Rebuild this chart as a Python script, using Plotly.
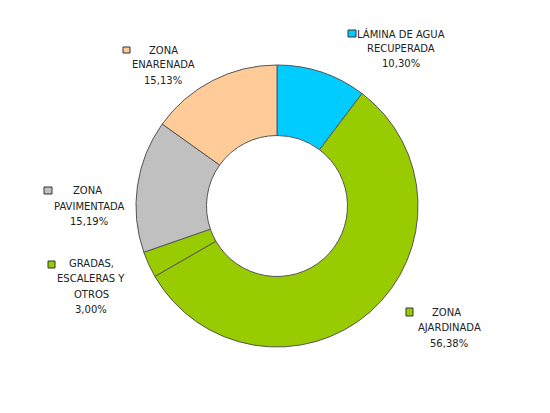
import plotly.graph_objects as go

labels = ["LÁMINA DE AGUA RECUPERADA", "ZONA AJARDINADA", "GRADAS, ESCALERAS Y OTROS",
          "ZONA PAVIMENTADA", "ZONA ENARENADA"]
values = [10.30, 56.38, 3.00, 15.19, 15.13]
colors = ["#00CCFF", "#99CC00", "#99CC00", "#C0C0C0", "#FFCC99"]
label_lines = [["LÁMINA DE AGUA", "RECUPERADA"], ["ZONA", "AJARDINADA"],
               ["GRADAS,", "ESCALERAS Y", "OTROS"], ["ZONA", "PAVIMENTADA"],
               ["ZONA", "ENARENADA"]]

W, H = 550, 413
# label layout in pixels: text center x, first line y, line step, square box (x0,y0,x1,y1), first-line x shift
label_pos = [
    (401, 34, 14.5, (348, 30, 356, 37), 0),
    (449, 312, 15.5, (406, 308, 413, 316), -3),
    (91, 263, 15.5, (48, 261, 55, 268), 0),
    (89, 190, 16, (44, 187, 52, 194), -2),
    (163, 50, 15, (123, 47, 130, 53), 0),
]

def px(x):
    return x / W

def py(y):
    return 1 - y / H

fig = go.Figure(go.Pie(
    labels=labels, values=values, sort=False, direction="clockwise", rotation=0,
    hole=0.5, textinfo="none", hoverinfo="label+percent",
    marker=dict(colors=colors, line=dict(color="#555555", width=1)),
    domain=dict(x=[px(277 - 141), px(277 + 141)], y=[py(347), py(65)]),
    showlegend=False,
))

annotations = []
shapes = []
for lines, v, c, (cx, y0, step, sq, shift) in zip(label_lines, values, colors, label_pos):
    all_lines = lines + [f"{v:.2f}".replace(".", ",") + "%"]
    for i, t in enumerate(all_lines):
        annotations.append(dict(
            x=px(cx + (shift if i == 0 else 0)), y=py(y0 + i * step), xref="paper", yref="paper",
            text=t, showarrow=False, xanchor="center", yanchor="middle",
            font=dict(family="DejaVu Sans", size=10, color="#222222"),
        ))
    shapes.append(dict(type="rect", xref="paper", yref="paper",
                       x0=px(sq[0]), x1=px(sq[2]), y0=py(sq[3]), y1=py(sq[1]),
                       fillcolor=c, line=dict(color="#333333", width=1)))

fig.update_layout(
    width=W, height=H, margin=dict(l=0, r=0, t=0, b=0),
    paper_bgcolor="white", plot_bgcolor="white",
    annotations=annotations, shapes=shapes,
)

fig.write_html("out.html")
